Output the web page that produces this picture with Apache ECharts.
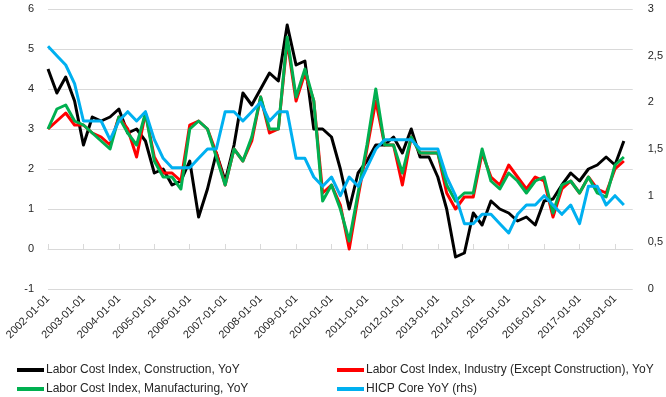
<!DOCTYPE html>
<html>
<head>
<meta charset="utf-8">
<script src="https://cdn.jsdelivr.net/npm/echarts@6/dist/echarts.min.js"></script>
<style>
  html, body { margin: 0; padding: 0; background: #ffffff; }
  #chart { width: 666px; height: 397px; }
</style>
</head>
<body>
<div id="chart"></div>
<script>
// ---- Data (quarterly) ----
var categories = [
  "2002-01-01","2002-04-01","2002-07-01","2002-10-01",
  "2003-01-01","2003-04-01","2003-07-01","2003-10-01",
  "2004-01-01","2004-04-01","2004-07-01","2004-10-01",
  "2005-01-01","2005-04-01","2005-07-01","2005-10-01",
  "2006-01-01","2006-04-01","2006-07-01","2006-10-01",
  "2007-01-01","2007-04-01","2007-07-01","2007-10-01",
  "2008-01-01","2008-04-01","2008-07-01","2008-10-01",
  "2009-01-01","2009-04-01","2009-07-01","2009-10-01",
  "2010-01-01","2010-04-01","2010-07-01","2010-10-01",
  "2011-01-01","2011-04-01","2011-07-01","2011-10-01",
  "2012-01-01","2012-04-01","2012-07-01","2012-10-01",
  "2013-01-01","2013-04-01","2013-07-01","2013-10-01",
  "2014-01-01","2014-04-01","2014-07-01","2014-10-01",
  "2015-01-01","2015-04-01","2015-07-01","2015-10-01",
  "2016-01-01","2016-04-01","2016-07-01","2016-10-01",
  "2017-01-01","2017-04-01","2017-07-01","2017-10-01",
  "2018-01-01","2018-04-01","2018-07-01"
];

var construction = [
  4.5, 3.9, 4.3, 3.7, 2.6, 3.3, 3.2, 3.3, 3.5, 2.9,
  3.0, 2.7, 1.9, 2.0, 1.6, 1.7, 2.2, 0.8, 1.5, 2.4,
  1.7, 2.6, 3.9, 3.6, 4.0, 4.4, 4.2, 5.6, 4.6, 4.7,
  3.0, 3.0, 2.8, 2.0, 1.0, 1.9, 2.2, 2.6, 2.6, 2.8,
  2.4, 3.0, 2.3, 2.3, 1.8, 1.0, -0.2, -0.1, 0.9, 0.6,
  1.2, 1.0, 0.9, 0.7, 0.8, 0.6, 1.2, 1.25, 1.6, 1.9,
  1.7, 2.0, 2.1, 2.3, 2.1, 2.7
];

var industry = [
  3.0, 3.2, 3.4, 3.1, 3.1, 2.9, 2.8, 2.6, 3.3, 3.0,
  2.3, 3.4, 2.3, 1.9, 1.9, 1.7, 3.1, 3.2, 3.0, 2.4,
  1.6, 2.5, 2.2, 2.7, 3.8, 2.9, 3.0, 5.2, 3.7, 4.4,
  3.7, 1.4, 1.6, 1.1, 0.0, 1.3, 2.5, 3.7, 2.6, 2.6,
  1.6, 2.8, 2.4, 2.4, 2.4, 1.4, 1.0, 1.3, 1.3, 2.4,
  1.8, 1.6, 2.1, 1.8, 1.5, 1.8, 1.7, 0.8, 1.5, 1.7,
  1.4, 1.8, 1.5, 1.4, 2.0, 2.2
];

var manufacturing = [
  3.0, 3.5, 3.6, 3.2, 3.1, 2.9, 2.7, 2.5, 3.3, 2.9,
  2.6, 3.4, 2.2, 1.8, 1.8, 1.5, 3.0, 3.2, 3.0, 2.3,
  1.6, 2.5, 2.2, 2.8, 3.8, 3.0, 3.0, 5.3, 3.8, 4.5,
  3.7, 1.2, 1.6, 1.0, 0.2, 1.4, 2.6, 4.0, 2.6, 2.6,
  1.9, 2.8, 2.4, 2.4, 2.4, 1.6, 1.2, 1.4, 1.4, 2.5,
  1.7, 1.5, 1.9, 1.7, 1.4, 1.7, 1.8, 0.9, 1.6, 1.7,
  1.4, 1.8, 1.4, 1.3, 2.1, 2.3
];

var hicpCore = [
  2.6, 2.5, 2.4, 2.2, 1.8, 1.8, 1.8, 1.6, 1.8, 1.9,
  1.8, 1.9, 1.6, 1.4, 1.3, 1.3, 1.3, 1.4, 1.5, 1.5,
  1.9, 1.9, 1.8, 1.9, 2.0, 1.8, 1.9, 1.9, 1.4, 1.4,
  1.2, 1.1, 1.2, 1.0, 1.2, 1.1, 1.3, 1.5, 1.6, 1.6,
  1.6, 1.6, 1.5, 1.5, 1.5, 1.2, 1.0, 0.7, 0.7, 0.8,
  0.8, 0.7, 0.6, 0.8, 0.9, 0.9, 1.0, 0.9, 0.8, 0.9,
  0.7, 1.1, 1.1, 0.9, 1.0, 0.9
];

var seriesNames = [
  "Labor Cost Index, Construction, YoY",
  "Labor Cost Index, Industry (Except Construction), YoY",
  "Labor Cost Index, Manufacturing, YoY",
  "HICP Core YoY (rhs)"
];

var leftTicks = { min: -1, max: 6, interval: 1 };
var rightTicks = { min: 0, max: 3, interval: 0.5 };

// ---- Chart ----
var FONT = "'Liberation Sans', Arial, sans-serif";
var TXT = '#262626';
var GRID = '#d9d9d9';

var chart = echarts.init(document.getElementById('chart'), null, { renderer: 'canvas' });

function mkLine(name, data, color, yIdx) {
  return {
    name: name,
    type: 'line',
    data: data,
    xAxisIndex: 0,
    yAxisIndex: yIdx,
    symbol: 'none',
    smooth: false,
    lineStyle: { color: color, width: 3, join: 'round' },
    itemStyle: { color: color },
    emphasis: { disabled: true }
  };
}

function mkLegend(name, left, top) {
  return {
    orient: 'horizontal',
    left: left, top: top,
    padding: 0,
    itemWidth: 27, itemHeight: 4,
    icon: 'rect',
    data: [name],
    textStyle: { fontFamily: FONT, fontSize: 12, color: TXT, padding: [0, 0, 0, -3] }
  };
}

var option = {
  animation: false,
  backgroundColor: '#ffffff',
  grid: { left: 48, top: 9, width: 585, height: 280, containLabel: false },
  legend: [
    mkLegend(seriesNames[0], 17, 364),
    mkLegend(seriesNames[1], 337, 364),
    mkLegend(seriesNames[2], 17, 383),
    mkLegend(seriesNames[3], 337, 383)
  ],
  xAxis: [
    {
      type: 'category',
      data: categories,
      boundaryGap: false,
      position: 'bottom',
      axisLine: { show: false, onZero: false },
      axisTick: { show: false },
      axisLabel: {
        interval: 3, rotate: 45, margin: 8,
        fontFamily: FONT, fontSize: 11, color: TXT
      },
      splitLine: { show: false }
    },
    {
      type: 'category',
      data: categories,
      boundaryGap: false,
      axisLine: { show: true, onZero: true, onZeroAxisIndex: 0, lineStyle: { color: GRID, width: 1 } },
      axisTick: { show: true, interval: 3, length: 5, lineStyle: { color: GRID, width: 1 } },
      axisLabel: { show: false },
      splitLine: { show: false }
    }
  ],
  yAxis: [
    {
      type: 'value',
      position: 'left',
      min: leftTicks.min, max: leftTicks.max, interval: leftTicks.interval,
      axisLine: { show: false },
      axisTick: { show: false },
      axisLabel: { margin: 14, fontFamily: FONT, fontSize: 11, color: TXT },
      splitLine: { show: true, lineStyle: { color: GRID, width: 1 } }
    },
    {
      type: 'value',
      position: 'right',
      min: rightTicks.min, max: rightTicks.max, interval: rightTicks.interval,
      axisLine: { show: false },
      axisTick: { show: false },
      axisLabel: {
        margin: 15, fontFamily: FONT, fontSize: 11, color: TXT,
        formatter: function (v) { return String(v).replace('.', ','); }
      },
      splitLine: { show: false }
    }
  ],
  series: [
    mkLine(seriesNames[0], construction, '#000000', 0),
    mkLine(seriesNames[1], industry, '#ff0000', 0),
    mkLine(seriesNames[2], manufacturing, '#00b050', 0),
    mkLine(seriesNames[3], hicpCore, '#00b0f0', 1)
  ]
};

chart.setOption(option);
</script>
</body>
</html>
